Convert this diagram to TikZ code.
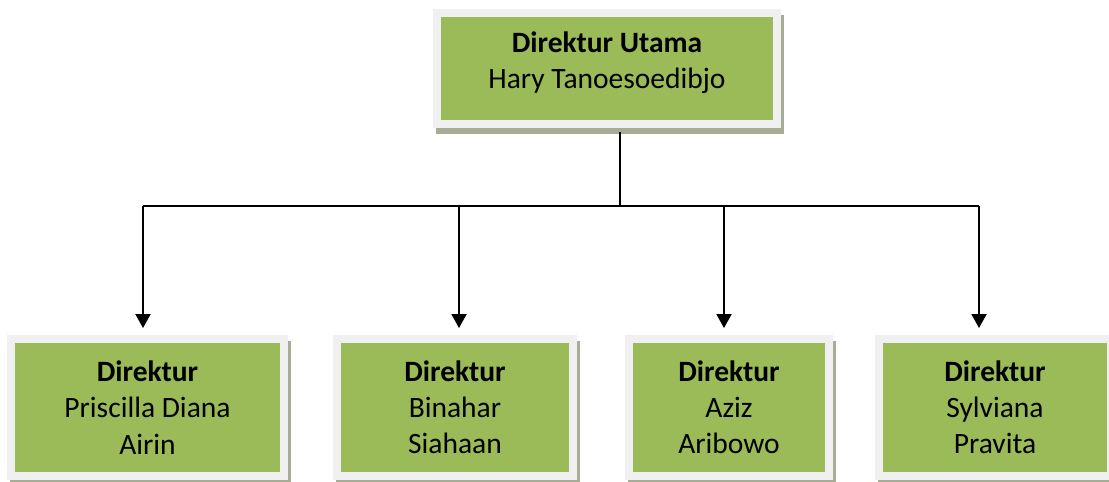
\documentclass[tikz,border=0pt]{standalone}
\usepackage{fontspec}
\setmainfont{Carlito}
\usetikzlibrary{arrows.meta,shadows}

\definecolor{boxgreen}{HTML}{9BBB59}
\definecolor{boxrim}{HTML}{F0F0F0}
\definecolor{boxshade}{HTML}{A7AC95}

\tikzset{
  orgbox/.style={rectangle, fill=boxgreen, draw=boxrim, line width=0.16cm,
    align=center, inner sep=0pt, minimum height=2.74cm,
    font=\fontsize{16.8}{20.6}\selectfont,
    drop shadow={shadow xshift=0.06cm, shadow yshift=-0.12cm, opacity=1,
      fill=boxshade, draw=boxshade, line width=0.16cm}},
  conn/.style={line width=0.04cm, black},
  arr/.style={conn, -{Triangle[width=0.3cm,length=0.28cm]}, shorten >=0.14cm}
}

\begin{document}
\begin{tikzpicture}[x=0.02cm, y=-0.02cm]
            \useasboundingbox (0,0) rectangle (1109,481);

            % Top box
            \node[orgbox, minimum width=6.8cm, minimum height=2.24cm] (top) at (607,68.5)
                {\textbf{Direktur Utama}\\Hary Tanoesoedibjo\rule[-0.32cm]{0pt}{0pt}};

            % Directors
            \node[orgbox, minimum width=5.46cm] (d1) at (147.5,407.5)
                {\textbf{Direktur}\\Priscilla Diana\\Airin};
            \node[orgbox, minimum width=4.72cm] (d2) at (455,407.5)
                {\textbf{Direktur}\\Binahar\\Siahaan};
            \node[orgbox, minimum width=4.0cm] (d3) at (729,407.5)
                {\textbf{Direktur}\\Aziz\\Aribowo};
            \node[orgbox, minimum width=4.64cm] (d4) at (995,407.5)
                {\textbf{Direktur}\\Sylviana\\Pravita};

            % Bus line
            \coordinate (bus) at (620,206);
            \coordinate (b1) at (143,206);
            \coordinate (b2) at (459,206);
            \coordinate (b3) at (724,206);
            \coordinate (b4) at (979,206);

            \draw[conn, shorten <=0.08cm] (top.south -| bus) -- (bus);
            \draw[conn] (b1) -- (b4);
            \foreach \i in {1,...,4}
                \draw[arr] (b\i) -- (b\i |- d\i.north);
\end{tikzpicture}
\end{document}
